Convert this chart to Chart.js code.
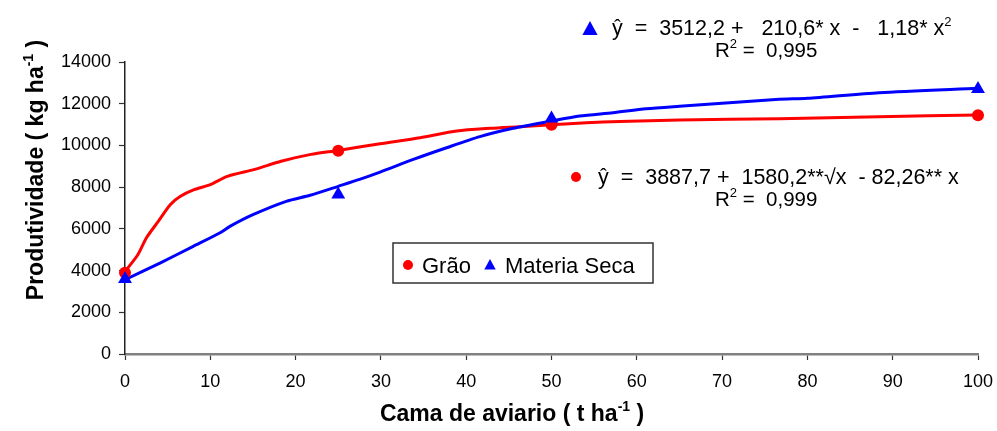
<!DOCTYPE html>
<html>
<head>
<meta charset="utf-8">
<script src="https://cdn.jsdelivr.net/npm/chart.js@4"></script>
<style>
  html, body { margin: 0; padding: 0; background: #fff; }
  #wrap { width: 997px; height: 431px; }
</style>
</head>
<body>
<div id="wrap"><canvas id="grafico" width="997" height="431"></canvas></div>
<script>
// doses de cama de aviario (t/ha) e produtividades observadas
const doses = [0, 25, 50, 100];
const graoObs = [3900, 9740, 10990, 11450];
const secaObs = [3600, 7650, 11290, 12700];

// curvas ajustadas (lidas ponto a ponto)
const graoCurvaX = [0, 1.5, 2.5, 3.9, 5.3, 6.5, 8.1, 10, 12, 15.2, 18.3, 21.8, 25, 29.9, 34.6, 38.9, 42.8, 46.3, 50, 54.1, 58, 65, 76.7, 88.4, 100];
const graoCurvaY = [3950, 4760, 5560, 6360, 7160, 7560, 7880, 8120, 8520, 8850, 9240, 9570, 9760, 10080, 10370, 10690, 10820, 10900, 10990, 11090, 11150, 11220, 11280, 11380, 11460];
const secaCurvaX = [0, 4.1, 8, 11.1, 12.3, 15, 18.9, 21.7, 25, 27.5, 29.9, 33.8, 37.7, 41.6, 45.5, 50, 53.3, 57.2, 61.1, 65, 70, 76.7, 80, 88.4, 100];
const secaCurvaY = [3560, 4360, 5160, 5800, 6120, 6680, 7320, 7610, 8040, 8370, 8720, 9330, 9890, 10420, 10820, 11170, 11410, 11570, 11760, 11880, 12020, 12210, 12260, 12530, 12740];

const xTicks = [0, 10, 20, 30, 40, 50, 60, 70, 80, 90, 100];
const yTicks = [0, 2000, 4000, 6000, 8000, 10000, 12000, 14000];

const VERMELHO = '#ff0000';
const AZUL = '#0000ff';
const FONTE = '"Liberation Sans", Arial, sans-serif';

function pares(xs, ys) {
  return xs.map((x, i) => ({ x: x, y: ys[i] }));
}

// escreve texto com trechos sobrescritos: partes = [[texto, sobrescrito?], ...]
function textoRico(ctx, partes, x, y, tam, negrito, alinhar) {
  const peso = negrito ? 'bold ' : '';
  const fNormal = peso + tam + 'px ' + FONTE;
  const fSup = peso + Math.round(tam * 0.62) + 'px ' + FONTE;
  let total = 0;
  partes.forEach(p => {
    ctx.font = p[1] ? fSup : fNormal;
    total += ctx.measureText(p[0]).width;
  });
  let cx = x;
  if (alinhar === 'center') cx = x - total / 2;
  ctx.textAlign = 'left';
  ctx.textBaseline = 'alphabetic';
  partes.forEach(p => {
    ctx.font = p[1] ? fSup : fNormal;
    ctx.fillText(p[0], cx, p[1] ? y - tam * 0.42 : y);
    cx += ctx.measureText(p[0]).width;
  });
}

function triangulo(ctx, x, y, r, cor) {
  ctx.fillStyle = cor;
  ctx.beginPath();
  ctx.moveTo(x, y - r);
  ctx.lineTo(x + r * 0.95, y + r * 0.75);
  ctx.lineTo(x - r * 0.95, y + r * 0.75);
  ctx.closePath();
  ctx.fill();
}

function bolinha(ctx, x, y, r, cor) {
  ctx.fillStyle = cor;
  ctx.beginPath();
  ctx.arc(x, y, r, 0, Math.PI * 2);
  ctx.fill();
}

// titulos dos eixos, equacoes e legenda
const textos = {
  id: 'textos',
  afterDraw(chart) {
    const ctx = chart.ctx;
    ctx.save();
    ctx.fillStyle = '#000';

    // titulo do eixo x
    textoRico(ctx, [['Cama de aviario ( t ha', false], ['-1', true], [' )', false]],
      512, 421, 23, true, 'center');

    // titulo do eixo y
    ctx.save();
    ctx.translate(43, 170);
    ctx.rotate(-Math.PI / 2);
    ctx.fillStyle = '#000';
    textoRico(ctx, [['Produtividade ( kg ha', false], ['-1', true], [' )', false]],
      0, 0, 23, true, 'center');
    ctx.restore();

    // equacao da materia seca
    triangulo(ctx, 590, 29, 8, AZUL);
    ctx.fillStyle = '#000';
    textoRico(ctx, [['ŷ  =  3512,2 +   210,6* x  -   1,18* x', false], ['2', true]], 612, 35, 21.5, false, 'left');
    textoRico(ctx, [['R', false], ['2', true], [' =  0,995', false]], 715, 57, 20.5, false, 'left');

    // equacao do grao
    bolinha(ctx, 576, 177, 5, VERMELHO);
    ctx.fillStyle = '#000';
    textoRico(ctx, [['ŷ  =  3887,7 +  1580,2**√x  - 82,26** x', false]], 598, 184, 21.5, false, 'left');
    textoRico(ctx, [['R', false], ['2', true], [' =  0,999', false]], 715, 206, 20.5, false, 'left');

    // legenda
    ctx.strokeStyle = '#333';
    ctx.lineWidth = 1.5;
    ctx.fillStyle = '#fff';
    ctx.fillRect(393, 243, 260, 40);
    ctx.strokeRect(393, 243, 260, 40);
    bolinha(ctx, 408, 265, 5, VERMELHO);
    triangulo(ctx, 490, 265, 6, AZUL);
    ctx.fillStyle = '#000';
    ctx.font = '22px ' + FONTE;
    ctx.textBaseline = 'alphabetic';
    ctx.fillText('Grão', 422, 273);
    ctx.fillText('Materia Seca', 505, 273);
    ctx.restore();
  }
};

const ctx = document.getElementById('grafico').getContext('2d');
new Chart(ctx, {
  type: 'scatter',
  data: {
    datasets: [
      {
        label: 'Grão ajuste',
        data: pares(graoCurvaX, graoCurvaY),
        showLine: true,
        borderColor: VERMELHO,
        borderWidth: 3,
        pointRadius: 0,
        tension: 0.25,
        clip: false,
        order: 3
      },
      {
        label: 'Materia Seca ajuste',
        data: pares(secaCurvaX, secaCurvaY),
        showLine: true,
        borderColor: AZUL,
        borderWidth: 3,
        pointRadius: 0,
        tension: 0.25,
        clip: false,
        order: 2
      },
      {
        label: 'Grão',
        data: pares(doses, graoObs),
        pointStyle: 'circle',
        pointRadius: 6,
        backgroundColor: VERMELHO,
        borderColor: VERMELHO,
        borderWidth: 0,
        clip: false,
        order: 1
      },
      {
        label: 'Materia Seca',
        data: pares(doses, secaObs),
        pointStyle: 'triangle',
        pointRadius: 8,
        backgroundColor: AZUL,
        borderColor: AZUL,
        borderWidth: 0,
        clip: false,
        order: 0
      }
    ]
  },
  options: {
    responsive: false,
    animation: false,
    layout: { padding: { top: 62, right: 19, left: 0, bottom: 0 } },
    plugins: {
      legend: { display: false },
      tooltip: { enabled: false }
    },
    scales: {
      x: {
        type: 'linear',
        min: 0,
        max: 100,
        afterBuildTicks: s => { s.ticks = xTicks.map(v => ({ value: v })); },
        afterFit: s => { s.height = 77; s.paddingLeft = 0; s.paddingRight = 0; },
        border: { color: '#808080', width: 2.5 },
        grid: { drawOnChartArea: false, color: '#333', tickLength: 6, tickWidth: 1.2 },
        ticks: { color: '#000', font: { family: FONTE, size: 18 }, padding: 11, maxRotation: 0,
                 callback: v => String(v) }
      },
      y: {
        type: 'linear',
        min: 0,
        max: 14000,
        afterBuildTicks: s => { s.ticks = yTicks.map(v => ({ value: v })); },
        afterFit: s => { s.width = 125; },
        border: { color: '#222', width: 1.5 },
        grid: { drawOnChartArea: false, color: '#333', tickLength: 6, tickWidth: 1.2 },
        ticks: { color: '#000', font: { family: FONTE, size: 18 }, padding: 8,
                 callback: v => String(v) }
      }
    }
  },
  plugins: [textos]
});
</script>
</body>
</html>
